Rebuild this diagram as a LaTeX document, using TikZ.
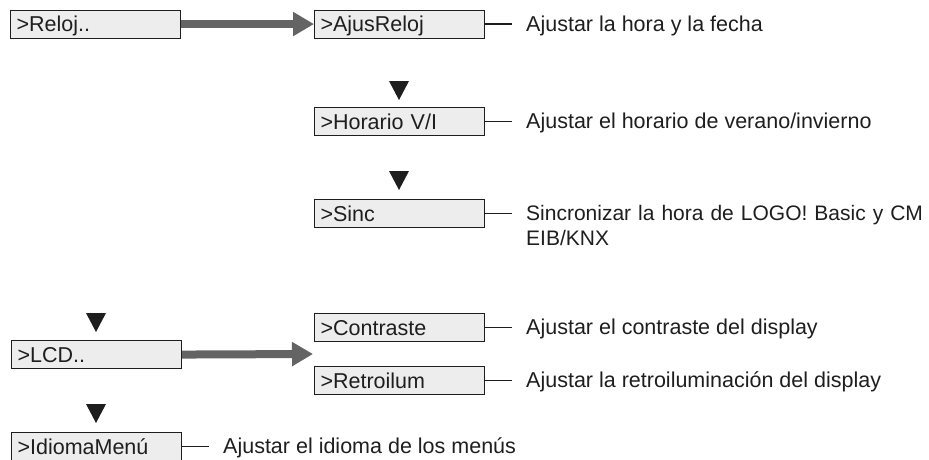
\documentclass[tikz,border=0pt]{standalone}
\usepackage{fontspec}
\setmainfont{Liberation Sans}
\usetikzlibrary{arrows.meta}
\definecolor{boxfill}{HTML}{EDEDED}
\definecolor{arrowgray}{HTML}{646464}
\definecolor{ink}{HTML}{1E1E1E}
\begin{document}
\begin{tikzpicture}[x=1pt,y=-1pt,
  txt/.style={font=\fontsize{21.5}{25}\selectfont, text=ink},
  menubox/.style={txt, draw=ink, fill=boxfill, line width=1.1pt,
    minimum height=28pt, text width=158pt, inner xsep=6pt, inner ysep=0pt,
    text height=15.4pt, text depth=0pt, anchor=north west, align=left},
  desc/.style={txt, anchor=base west, inner sep=0pt},
  conn/.style={draw=ink, line width=1.3pt, shorten >=14pt},
  bigarrow/.style={draw=arrowgray, line width=8pt,
    -{Triangle[length=21pt,width=23pt]}},
  downtri/.pic={\fill[ink] (-10,0) -- (10,0) -- (0,19) -- cycle;}
]
\useasboundingbox (0,0) rectangle (929,459);

% boxes
\node[menubox] (reloj)  at (10,9.5)  {>Reloj..};
\node[menubox] (ajus)   at (314,9.5) {>AjusReloj};
\node[menubox] (hor)    at (314,107) {>Horario V/I};
\node[menubox] (sinc)   at (314,199) {>Sinc};
\node[menubox] (contr)  at (314,313) {>Contraste};
\node[menubox] (retro)  at (314,366) {>Retroilum};
\node[menubox] (lcd)    at (11,340)  {>LCD..};
\node[menubox] (idioma) at (11,432)  {>IdiomaMenú};

% descriptions
\node[desc] (d1) at (526,31.2)  {Ajustar la hora y la fecha};
\node[desc] (d2) at (526,128.7) {Ajustar el horario de verano/invierno};
\node[desc, font=\fontsize{21}{25}\selectfont, text width=400pt, align=left] (d3) at (526,220.7)
  {Sincronizar la hora de LOGO! Basic y CM\\EIB/KNX};
\node[desc] (d4) at (526,334.7) {Ajustar el contraste del display};
\node[desc] (d5) at (526,387.7) {Ajustar la retroiluminación del display};
\node[desc] (d6) at (223,453.7) {Ajustar el idioma de los menús};

% connectors
\draw[conn] (ajus.east)   -- (ajus.east -| d1.west);
\draw[conn] (hor.east)    -- (hor.east -| d1.west);
\draw[conn] (sinc.east)   -- (sinc.east -| d1.west);
\draw[conn] (contr.east)  -- (contr.east -| d1.west);
\draw[conn] (retro.east)  -- (retro.east -| d1.west);
\draw[conn] (idioma.east) -- (idioma.east -| d6.west);

% big arrows
\coordinate (lcdtip) at (313,354);
\draw[bigarrow] (reloj.east) -- (ajus.west);
\draw[bigarrow] (lcd.east) -- (lcdtip);

% down triangles
\pic at (399,81)  {downtri};
\pic at (399,171) {downtri};
\pic at (96,313)  {downtri};
\pic at (96,404)  {downtri};
\end{tikzpicture}
\end{document}
